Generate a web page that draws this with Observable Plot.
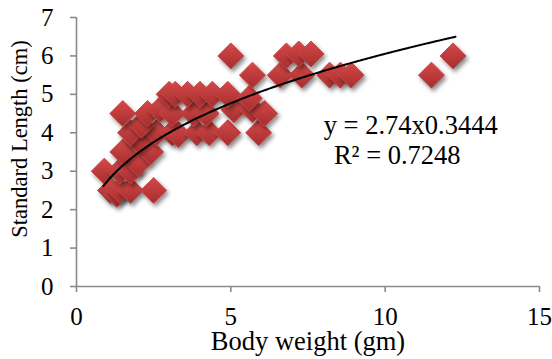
<!DOCTYPE html>
<html>
<head>
<meta charset="utf-8">
<script src="https://cdn.jsdelivr.net/npm/d3@7"></script>
<script src="https://cdn.jsdelivr.net/npm/@observablehq/plot@0.6"></script>
<style>
  html, body { margin: 0; padding: 0; background: #fff; }
  #chart { width: 552px; height: 359px; }
  #chart svg text { font-family: "Liberation Serif", "Times New Roman", serif; }
</style>
</head>
<body>
<div id="chart"></div>
<script>
// Body weight (gm) of each fish
const bodyWeight = [
  0.9, 1.1, 1.3, 1.4, 1.75, 2.5, 1.4, 1.75, 2.0, 1.5, 2.4, 2.0,
  1.75, 2.6, 2.1, 1.5, 2.3, 2.7, 3.1, 3.3, 3.9, 4.3, 4.9, 5.9,
  3.1, 3.8, 4.2, 5.1, 5.7, 6.1, 3.0, 3.2, 3.6, 4.0, 4.4, 4.9,
  5.6, 5.0, 5.7, 6.6, 6.8, 7.3, 7.2, 7.6, 8.2, 8.55, 8.9, 11.5, 12.2
];
// Standard length (cm) of each fish
const standardLength = [
  3.0, 2.5, 2.4, 2.5, 2.5, 2.5, 3.0, 3.0, 3.2, 3.5, 3.5, 3.8,
  4.0, 4.0, 4.2, 4.5, 4.5, 4.6, 4.0, 3.95, 4.0, 4.0, 4.0, 4.0,
  4.5, 4.5, 4.5, 4.6, 4.6, 4.5, 5.0, 5.0, 5.0, 5.0, 5.0, 5.0,
  4.9, 6.0, 5.5, 5.5, 6.0, 5.5, 6.05, 6.05, 5.5, 5.5, 5.5, 5.5, 6.0
];
const xTicks = [0, 5, 10, 15];
const yTicks = [0, 1, 2, 3, 4, 5, 6, 7];
const xLabel = "Body weight (gm)";
const yLabel = "Standard Length (cm)";
// Fitted power trendline shown on the chart: y = 2.74 x^0.3444
const fitA = 2.74, fitB = 0.3444;
const fitRange = [0.87, 12.28];
const equationText = "y = 2.74x0.3444";
const r2Text = "R\u00b2 = 0.7248";
const equationAt = [8.01, 4.19];
const r2At = [8.34, 3.41];

const points = bodyWeight.map((w, i) => ({w, l: standardLength[i]}));
const trend = d3.range(fitRange[0], fitRange[1] + 1e-9, 0.05).concat([fitRange[1]])
  .map(w => ({w, l: fitA * Math.pow(w, fitB)}));

const font = "Liberation Serif";
const plot = Plot.plot({
  width: 552,
  height: 359,
  marginLeft: 76,
  marginRight: 13,
  marginTop: 17,
  marginBottom: 73,
  style: {fontFamily: font, background: "#fff", color: "#000", overflow: "visible"},
  x: {domain: [0, 15]},
  y: {domain: [0, 7]},
  marks: [
    Plot.ruleY([0], {stroke: "#8a8a8a", strokeWidth: 1.6}),
    Plot.ruleX([0], {stroke: "#8a8a8a", strokeWidth: 1.6}),
    Plot.axisX({ticks: xTicks, tickSize: 6, tickPadding: 15, stroke: "#8a8a8a", strokeWidth: 1.6,
      fill: "#000", fontSize: 25, fontFamily: font, label: null, tickFormat: d => String(d)}),
    Plot.axisY({ticks: yTicks, tickSize: 6, tickPadding: 17, stroke: "#8a8a8a", strokeWidth: 1.6,
      fill: "#000", fontSize: 25, fontFamily: font, label: null, tickFormat: d => String(d)}),
    Plot.dot(points, {x: "w", y: "l", symbol: "diamond2", r: 11.7,
      fill: "url(#dgrad)", stroke: "#c44646", strokeWidth: 1}),
    Plot.line(trend, {x: "w", y: "l", stroke: "#000", strokeWidth: 2}),
    Plot.text([equationText], {x: equationAt[0], y: equationAt[1], textAnchor: "start",
      fontSize: 26.5, fontFamily: font, fill: "#000"}),
    Plot.text([r2Text], {x: r2At[0], y: r2At[1], textAnchor: "start",
      fontSize: 26.5, fontFamily: font, fill: "#000"}),
    Plot.text([xLabel], {frameAnchor: "bottom", dy: 55, fontSize: 26.5, fontFamily: font,
      fill: "#000", textAnchor: "middle", lineAnchor: "middle"}),
    Plot.text([yLabel], {frameAnchor: "left", dx: -57, dy: -13, rotate: -90, fontSize: 22.5, fontFamily: font,
      fill: "#000", textAnchor: "middle", lineAnchor: "middle"})
  ]
});

const svg = d3.select(plot);
const defs = svg.insert("defs", ":first-child");
const grad = defs.append("linearGradient").attr("id", "dgrad")
  .attr("x1", 0).attr("y1", 0).attr("x2", 0).attr("y2", 1);
grad.append("stop").attr("offset", "0%").attr("stop-color", "#d64848");
grad.append("stop").attr("offset", "100%").attr("stop-color", "#a52e2e");
const filt = defs.append("filter").attr("id", "dshadow")
  .attr("x", "-50%").attr("y", "-50%").attr("width", "200%").attr("height", "200%");
filt.append("feDropShadow").attr("dx", 2).attr("dy", 3).attr("stdDeviation", 2)
  .attr("flood-color", "#000").attr("flood-opacity", 0.45);
svg.selectAll("g[aria-label='dot'] path").attr("filter", "url(#dshadow)");

document.getElementById("chart").appendChild(plot);
</script>
</body>
</html>
